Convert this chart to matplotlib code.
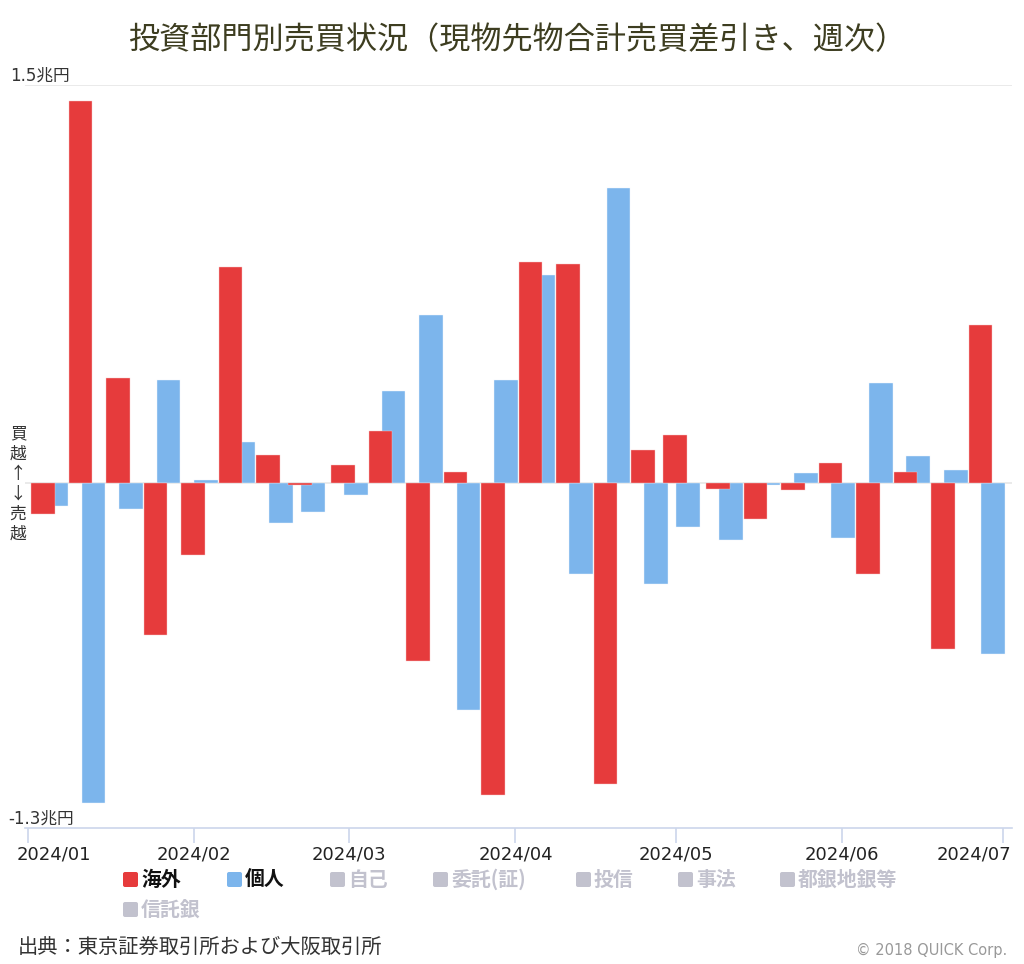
import matplotlib
matplotlib.use("Agg")
import matplotlib.pyplot as plt
import matplotlib.dates as mdates
import matplotlib.transforms as mtransforms
from matplotlib.patches import FancyBboxPatch
import numpy as np
import pandas as pd

plt.rcParams['font.family'] = ['Noto Sans CJK JP', 'DejaVu Sans']

# weekly data (last trading day of each week), unit: 兆円
weeks = ["2024-01-05", "2024-01-12", "2024-01-19", "2024-01-26",
         "2024-02-02", "2024-02-09", "2024-02-16", "2024-02-22",
         "2024-03-01", "2024-03-08", "2024-03-15", "2024-03-22", "2024-03-29",
         "2024-04-05", "2024-04-12", "2024-04-19", "2024-04-26",
         "2024-05-02", "2024-05-10", "2024-05-17", "2024-05-24", "2024-05-31",
         "2024-06-07", "2024-06-14", "2024-06-21", "2024-06-28"]
kaigai = [-0.116, 1.438, 0.397, -0.573, -0.272, 0.814, 0.107, -0.007,
          0.068, 0.197, -0.670, 0.043, -1.177, 0.834, 0.827, -1.133,
          0.126, 0.180, -0.021, -0.135, -0.028, 0.075, -0.343, 0.043,
          -0.626, 0.597]
kojin = [-0.085, -1.207, -0.096, 0.389, 0.011, 0.153, -0.149, -0.110,
         -0.046, 0.345, 0.635, -0.855, 0.389, 0.784, -0.343, 1.110,
         -0.381, -0.167, -0.213, -0.007, 0.037, -0.206, 0.377, 0.101,
         0.050, -0.644]

month_ticks = ["2024-01-01", "2024-02-01", "2024-03-01", "2024-04-01",
               "2024-05-01", "2024-06-01", "2024-07-01"]
month_labels = ["2024/01", "2024/02", "2024/03", "2024/04",
                "2024/05", "2024/06", "2024/07"]

legend_names = ["海外", "個人", "自己", "委託(証)", "投信", "事法", "都銀地銀等", "信託銀"]

RED = "#e63b3c"
BLUE = "#7cb5ec"
GRAY = "#c2c2ce"

x = mdates.date2num(pd.to_datetime(weeks))

fig = plt.figure(figsize=(10.24, 9.64), dpi=100)
ax = fig.add_axes([25 / 1024, 136 / 964, 987 / 1024, 743 / 964])

# blue first, red drawn on top
ax.bar(x + 1.2, kojin, width=4.4, color=BLUE, edgecolor="#eef5fc", linewidth=0.3, zorder=2)
ax.bar(x - 1.2, kaigai, width=4.4, color=RED, edgecolor="#f7c9c9", linewidth=0.3, zorder=3)

start = mdates.date2num(pd.Timestamp("2024-01-01"))
ax.set_xlim(start - 0.56, start + 183.7)
ax.set_ylim(-1.3, 1.5)

ax.axhline(1.5, color="#e6e6e6", lw=1.2, zorder=1)
ax.axhline(0, color="#e6e6e6", lw=1.2, zorder=1)

for s in ["top", "right", "left"]:
    ax.spines[s].set_visible(False)
ax.spines["bottom"].set_color("#ccd6eb")
ax.spines["bottom"].set_linewidth(1.2)

ax.set_yticks([])
tick_pos = mdates.date2num(pd.to_datetime(month_ticks))
ax.set_xticks(tick_pos)
ax.set_xticklabels(month_labels, family=["DejaVu Sans"], fontsize=13, color="#222222")
ax.tick_params(axis="x", length=10.5, width=1.2, color="#ccd6eb", pad=2)

labels = ax.get_xticklabels()
labels[0].set_ha("left")
labels[0].set_transform(labels[0].get_transform() +
                        mtransforms.ScaledTranslation(-11 / 100, 0, fig.dpi_scale_trans))
labels[-1].set_ha("right")
labels[-1].set_transform(labels[-1].get_transform() +
                         mtransforms.ScaledTranslation(8 / 100, 0, fig.dpi_scale_trans))

# y labels above the lines
trans = mtransforms.blended_transform_factory(ax.transAxes, ax.transData)
ax.text(-15 / 987, 1.5, "1.5兆円", transform=trans, ha="left", va="bottom",
        fontsize=12, color="#333333", family=["DejaVu Sans", "Noto Sans CJK JP"])
ax.text(-17 / 987, -1.3, "-1.3兆円", transform=trans, ha="left", va="bottom",
        fontsize=12, color="#333333", family=["DejaVu Sans", "Noto Sans CJK JP"])

# 買越 / 売越 marker
fig.text(18 / 1024, 1 - 484 / 964, "買\n越\n↑\n↓\n売\n越", ha="center", va="center",
         fontsize=12, color="#333333", linespacing=1.22)

# title
fig.text(0.505, 1 - 41 / 964, "投資部門別売買状況（現物先物合計売買差引き、週次）",
         ha="center", va="center", fontsize=22.4, color="#3d3d20")

# legend
leg_pos = [(123, 879), (227, 879), (330, 879), (433, 879), (576, 879),
           (678, 879), (780, 879), (123, 909)]
leg_colors = [RED, BLUE] + [GRAY] * 6
leg_text = ["#111111", "#111111"] + [GRAY] * 6
for name, (px, py), c, tc in zip(legend_names, leg_pos, leg_colors, leg_text):
    sq = FancyBboxPatch((px / 1024, 1 - (py + 8) / 964), 15 / 1024, 15 / 964,
                        boxstyle="round,pad=0,rounding_size=0.002",
                        transform=fig.transFigure, facecolor=c, edgecolor="none")
    fig.patches.append(sq)
    fig.text((px + 18) / 1024, 1 - py / 964, name, ha="left", va="center",
             fontsize=14.3, fontweight="bold", color=tc)

# footer
fig.text(18 / 1024, 1 - 947 / 964, "出典：東京証券取引所および大阪取引所",
         ha="left", va="center", fontsize=14.6, color="#333333")
fig.text(1007 / 1024, 1 - 950 / 964, "© 2018 QUICK Corp.", ha="right", va="center",
         fontsize=10.5, color="#999999", family=["DejaVu Sans"])

fig.savefig("out.png", dpi=100)
